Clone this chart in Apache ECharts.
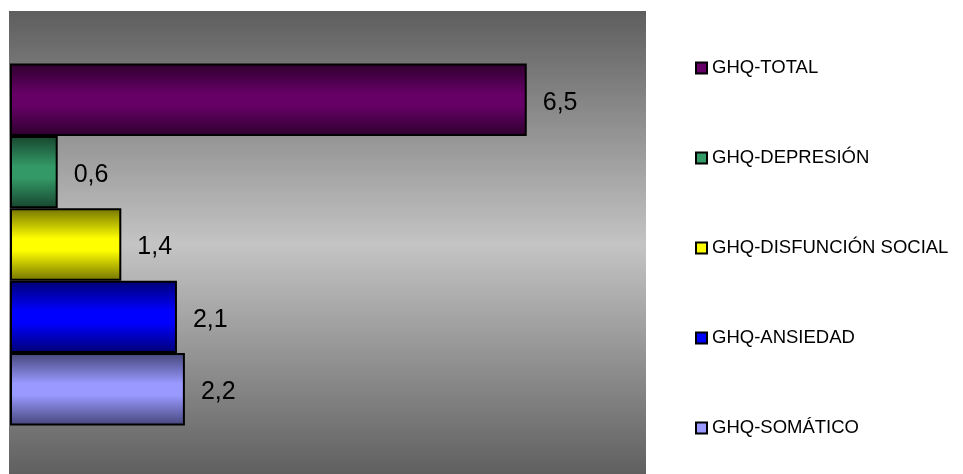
<!DOCTYPE html>
<html>
<head>
<meta charset="utf-8">
<script src="https://cdn.jsdelivr.net/npm/echarts@6/dist/echarts.min.js"></script>
<style>
  html, body { margin: 0; padding: 0; background: #ffffff; }
  #chart { width: 963px; height: 474px; }
</style>
</head>
<body>
<div id="chart"></div>
<script>
// GHQ subscale means
const seriesNames = ['GHQ-TOTAL', 'GHQ-DEPRESIÓN', 'GHQ-DISFUNCIÓN SOCIAL', 'GHQ-ANSIEDAD', 'GHQ-SOMÁTICO'];
const seriesValues = [6.5, 0.6, 1.4, 2.1, 2.2];
const baseColors = ['#660066', '#339966', '#ffff00', '#0000ff', '#9999ff'];
const edgeColors = ['#2e002e', '#17442e', '#737300', '#000073', '#45457a'];
const categories = [''];

const FONT = '"Liberation Sans", Arial, sans-serif';

function barGradient(i) {
  return new echarts.graphic.LinearGradient(0, 0, 0, 1, [
    { offset: 0, color: edgeColors[i] },
    { offset: 0.42, color: baseColors[i] },
    { offset: 0.58, color: baseColors[i] },
    { offset: 1, color: edgeColors[i] }
  ]);
}

const series = seriesNames.map(function (name, i) {
  return {
    name: name,
    type: 'bar',
    data: [seriesValues[i]],
    barWidth: 72.4,
    barGap: '0%',
    itemStyle: { color: barGradient(i), borderColor: '#000000', borderWidth: 2 },
    label: {
      show: true,
      position: 'right',
      distance: 15,
      offset: [1, 3],
      color: '#000000',
      fontFamily: FONT,
      fontSize: 25,
      formatter: function (p) { return String(p.value).replace('.', ','); }
    },
    emphasis: { disabled: true }
  };
});

const chart = echarts.init(document.getElementById('chart'), null, { renderer: 'canvas' });
chart.setOption({
  animation: false,
  backgroundColor: '#ffffff',
  grid: {
    left: 10,
    top: 15,
    width: 636,
    height: 462,
    show: true,
    borderWidth: 0,
    backgroundColor: 'transparent'
  },
  graphic: [{
    type: 'rect',
    z: -10,
    silent: true,
    shape: { x: 9, y: 11, width: 637, height: 467 },
    style: {
      fill: new echarts.graphic.LinearGradient(0, 0, 0, 1, [
        { offset: 0, color: '#5e5e5e' },
        { offset: 0.5, color: '#c4c4c4' },
        { offset: 1, color: '#5e5e5e' }
      ])
    }
  }],
  xAxis: {
    type: 'value',
    min: 0,
    max: 8,
    show: false
  },
  yAxis: {
    type: 'category',
    data: categories,
    inverse: true,
    show: false
  },
  legend: {
    orient: 'vertical',
    left: 695,
    top: 58,
    padding: 0,
    itemWidth: 11,
    itemHeight: 11,
    itemGap: 70,
    icon: 'rect',
    selectedMode: false,
    textStyle: { color: '#000000', fontFamily: FONT, fontSize: 18.5, lineHeight: 20 },
    data: seriesNames.map(function (n, i) {
      return { name: n, itemStyle: { color: baseColors[i], borderColor: '#000000', borderWidth: 2 } };
    })
  },
  series: series
});
</script>
</body>
</html>
